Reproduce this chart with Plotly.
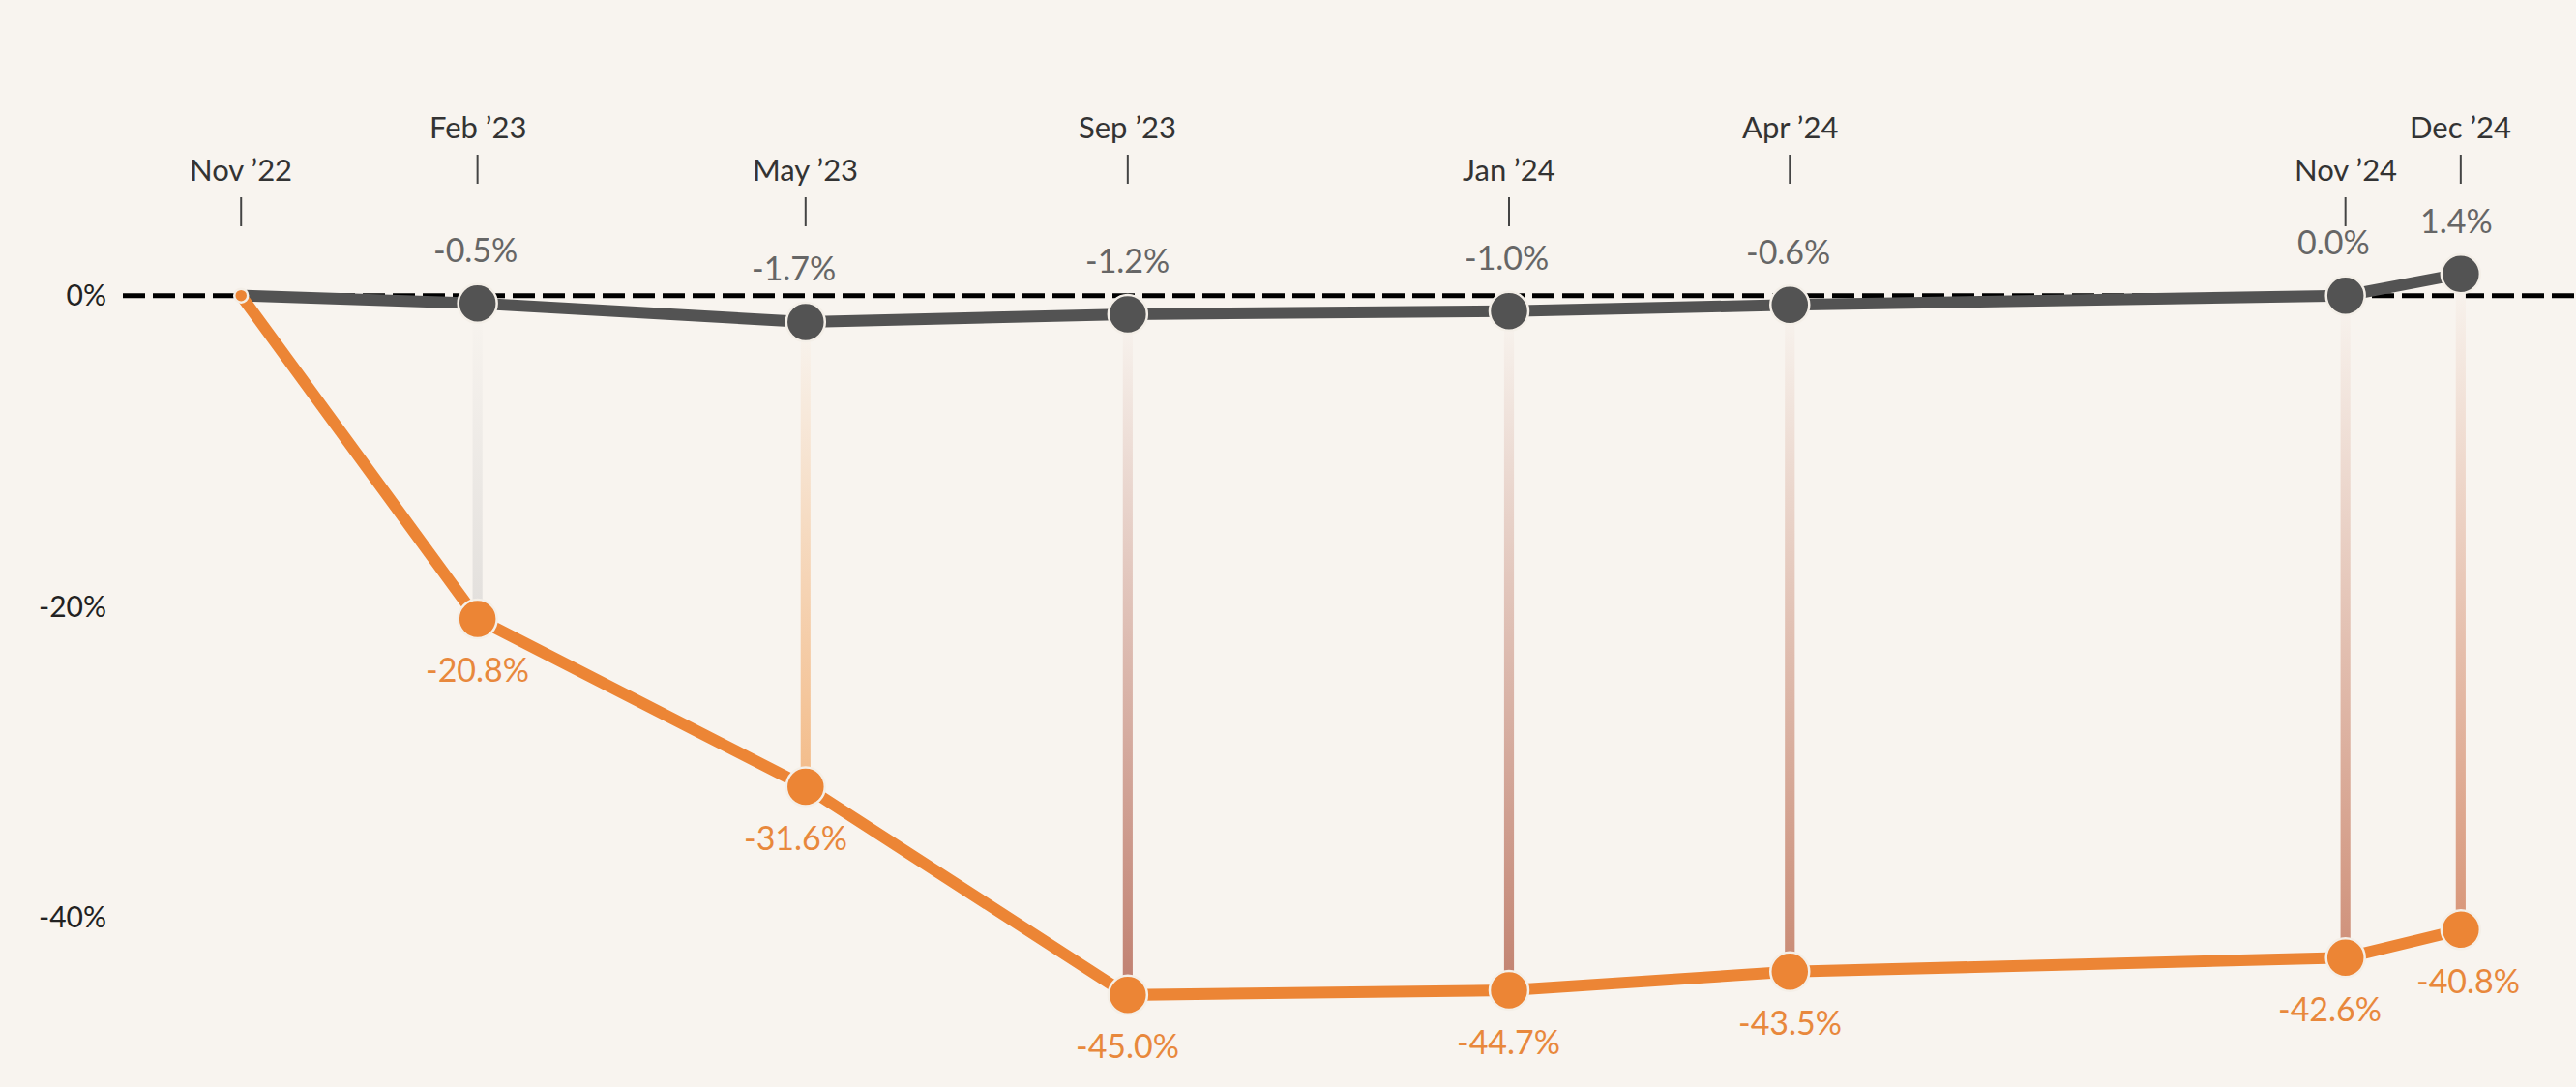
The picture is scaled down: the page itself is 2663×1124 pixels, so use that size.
import plotly.graph_objects as go
import pandas as pd

# ---------------- data ----------------
dates = ["2022-11-20", "2023-02-08", "2023-05-30", "2023-09-16",
         "2024-01-23", "2024-04-27", "2024-11-01", "2024-12-10"]
date_labels = ["Nov ’22", "Feb ’23", "May ’23", "Sep ’23",
               "Jan ’24", "Apr ’24", "Nov ’24", "Dec ’24"]
gray_values = [0.0, -0.5, -1.7, -1.2, -1.0, -0.6, 0.0, 1.4]
orange_values = [0.0, -20.8, -31.6, -45.0, -44.7, -43.5, -42.6, -40.8]
y_ticks = [0, -20, -40]

# ---------------- style ----------------
BG = "#f8f4ef"
GRAY = "#535353"
ORANGE = "#ec8535"
GRAY_TXT = "#666666"
ORANGE_TXT = "#e8883c"
FONT = "Lato"
connector_colors = [None, "#e2dfdc", "#f3bb88", "#c07f6f", "#c28270",
                    "#c98a74", "#cf9079", "#d89679"]
gray_label_xshift = [0, -2, -12, 0, -2, -2, -12, -4]
orange_label_xshift = [0, 0, -10, 0, 0, 0, -16, 8]
marker_sizes = [0, 40, 40, 40, 40, 40, 40, 40]
orange_marker_sizes = [14, 40, 40, 40, 40, 40, 40, 40]

x = pd.to_datetime(dates)
n = len(dates)

fig = go.Figure()

# gradient connectors between the two series
half = pd.Timedelta(hours=40)
for i in range(1, n):
    d = x[i]
    xs = [d - half, d + half, d + half, d - half, d - half]
    ys = [gray_values[i], gray_values[i], orange_values[i], orange_values[i], gray_values[i]]
    fig.add_trace(go.Scatter(
        x=xs, y=ys, mode="lines", fill="toself",
        line=dict(width=0, color="rgba(0,0,0,0)"),
        fillcolor=connector_colors[i],
        fillgradient=dict(type="vertical",
                          colorscale=[[0, connector_colors[i]], [1, BG]]),
        hoverinfo="skip", showlegend=False))

# gray series
fig.add_trace(go.Scatter(
    x=x, y=gray_values, mode="lines+markers",
    line=dict(color=GRAY, width=12),
    marker=dict(size=marker_sizes, color=GRAY, opacity=1,
                line=dict(color="#f4efe8", width=2.5)),
    showlegend=False, hoverinfo="skip"))

# orange series
fig.add_trace(go.Scatter(
    x=x, y=orange_values, mode="lines+markers",
    line=dict(color=ORANGE, width=12),
    marker=dict(size=orange_marker_sizes, color=ORANGE, opacity=1,
                line=dict(color="#f4efe8", width=2.5)),
    showlegend=False, hoverinfo="skip"))

annotations = []
shapes = []

# zero dashed line
shapes.append(dict(type="line", xref="paper", yref="y", x0=0, x1=1, y0=0, y1=0,
                   line=dict(color="#000000", width=5, dash="23px,8px"), layer="below"))

H = 1124.0
for i in range(n):
    high = (i % 2 == 1)
    text_y = 131 if high else 175
    tick_top = 160 if high else 204
    annotations.append(dict(
        x=x[i], y=1 - text_y / H, xref="x", yref="paper", text=date_labels[i],
        showarrow=False, font=dict(family=FONT, size=31, color="#333333"),
        xanchor="center", yanchor="middle"))
    shapes.append(dict(type="line", xref="x", yref="paper", x0=x[i], x1=x[i],
                       y0=1 - (tick_top + 30) / H, y1=1 - tick_top / H,
                       line=dict(color="#444444", width=2)))
    if i == 0:
        continue
    annotations.append(dict(
        x=x[i], y=gray_values[i], xref="x", yref="y",
        text=f"{gray_values[i]:.1f}%", showarrow=False,
        font=dict(family=FONT, size=34, color=GRAY_TXT),
        xanchor="center", yanchor="middle", yshift=56,
        xshift=gray_label_xshift[i]))
    annotations.append(dict(
        x=x[i], y=orange_values[i], xref="x", yref="y",
        text=f"{orange_values[i]:.1f}%", showarrow=False,
        font=dict(family=FONT, size=34, color=ORANGE_TXT),
        xanchor="center", yanchor="middle", yshift=-52,
        xshift=orange_label_xshift[i]))

fig.update_layout(
    width=2663, height=1124,
    margin=dict(l=127, r=0, t=0, b=0),
    paper_bgcolor=BG, plot_bgcolor=BG,
    font=dict(family=FONT),
    xaxis=dict(range=["2022-10-11", "2025-01-18"], visible=False, showgrid=False,
               zeroline=False),
    yaxis=dict(range=[-50.92, 19.02], tickvals=y_ticks,
               ticktext=[f"{v}%" for v in y_ticks],
               showgrid=False, zeroline=False, showline=False,
               tickfont=dict(family=FONT, size=30, color="#222222"),
               ticklabelstandoff=16),
    annotations=annotations, shapes=shapes,
)

fig.write_html(
    "out.html",
    config={"displayModeBar": False},
    post_script="document.body.style.margin='0';document.body.style.background='" + BG + "';",
)
